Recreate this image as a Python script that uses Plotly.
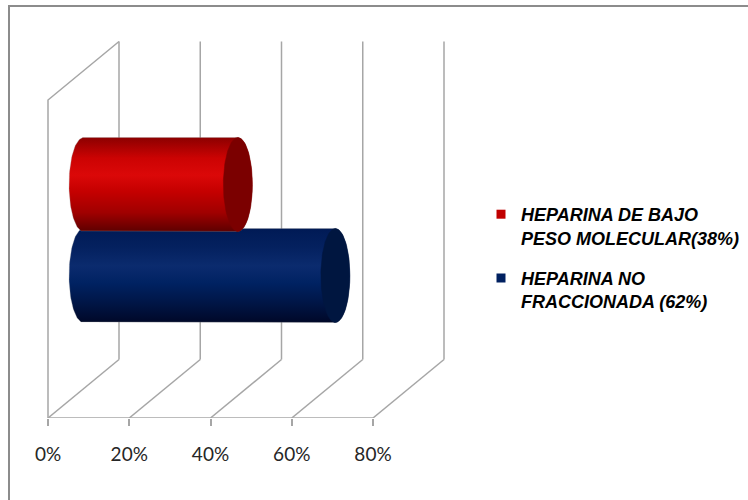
import numpy as np
import plotly.graph_objects as go

# ---------------- data ----------------
series_names = ["HEPARINA DE BAJO<br>PESO MOLECULAR(38%)", "HEPARINA NO<br>FRACCIONADA (62%)"]
series_values = [38, 62]
series_colors = ["#c00000", "#002060"]
tick_values = [0, 20, 40, 60, 80]
tick_labels = ["0%", "20%", "40%", "60%", "80%"]

# ---------------- layout constants ----------------
W, H = 748, 500
PX_PER = 325 / 80.0          # pixels per percent on the front plane
X0PX = 48                     # pixel x of 0 %
FLOOR_PX = 418                # pixel y of front floor edge
DX = 71 / PX_PER              # depth offset (x, data units)
DY = 58.5                     # depth offset (y, data units = px)
WALL_H = 318                  # front wall height
GRID = "#a6a6a6"

xr = [-X0PX / PX_PER, (W - X0PX) / PX_PER]
yr = [0, FLOOR_PX]

fig = go.Figure()

# ---------------- walls / floor / gridlines ----------------
gx, gy = [], []
xmax = max(tick_values)
for t in tick_values:
    gx += [t + DX, t + DX, None]
    gy += [DY, WALL_H + DY, None]
for t in tick_values:
    gx += [t, t + DX, None]
    gy += [0, DY, None]
gx += [0, 0, DX, None]
gy += [0, WALL_H, WALL_H + DY, None]
gx += [0, xmax, None]
gy += [0, 0, None]
fig.add_trace(go.Scatter(x=gx, y=gy, mode="lines", line=dict(color=GRID, width=1.5),
                         hoverinfo="skip", showlegend=False))

# ---------------- cylinders ----------------
RY = 47.0
RX = 14.5 / PX_PER
centers = [233.5, 142.5]      # y centre (data units) of each cylinder
grads = [
    [[0, "#5e0000"], [0.2, "#a00000"], [0.42, "#c40000"], [0.6, "#db0808"],
     [0.78, "#cc0303"], [1, "#8c0000"]],
    [[0, "#000828"], [0.2, "#001545"], [0.42, "#002262"], [0.6, "#0b2b6e"],
     [0.8, "#04215f"], [1, "#001a55"]],
]
caps = ["#7b0000", "#001640"]

xs0 = DX / 2
order = [1, 0]  # draw blue (behind) first, then red
for i in order:
    v = series_values[i]
    yc = centers[i]
    x1 = xs0 + v
    th_r = np.linspace(np.pi / 2, -np.pi / 2, 60)
    th_l = np.linspace(-np.pi / 2, -3 * np.pi / 2, 60)
    bx = list(x1 + RX * np.cos(th_r)) + list(xs0 + RX * np.cos(th_l))
    by = list(yc + RY * np.sin(th_r)) + list(yc + RY * np.sin(th_l))
    bx.append(bx[0]); by.append(by[0])
    fig.add_trace(go.Scatter(
        x=bx, y=by, mode="lines", fill="toself",
        line=dict(color="rgba(160,160,160,0.35)", width=0.8),
        fillgradient=dict(type="vertical", colorscale=grads[i],
                          start=yc - RY, stop=yc + RY),
        hoverinfo="skip", showlegend=False))
    th = np.linspace(0, 2 * np.pi, 120)
    fig.add_trace(go.Scatter(
        x=x1 + RX * np.cos(th), y=yc + RY * np.sin(th), mode="lines", fill="toself",
        fillcolor=caps[i], line=dict(color=caps[i], width=0.5),
        hoverinfo="skip", showlegend=False))

# ---------------- legend entries ----------------
for k, (name, col) in enumerate(zip(series_names, series_colors)):
    fig.add_trace(go.Scatter(x=[None], y=[None], mode="markers", name=name,
                             legendgroup=f"g{k}",
                             marker=dict(symbol="square", size=9, color=col)))

# ---------------- frame ----------------
def py2paper(py):
    return (FLOOR_PX - py) / FLOOR_PX

frame_col = "#8c8c8c"
fig.add_shape(type="line", xref="paper", yref="paper",
              x0=8 / W, x1=1.0, y0=py2paper(6), y1=py2paper(6),
              line=dict(color=frame_col, width=2))
fig.add_shape(type="line", xref="paper", yref="paper",
              x0=9 / W, x1=9 / W, y0=py2paper(6), y1=py2paper(500),
              line=dict(color=frame_col, width=2))

fig.update_layout(
    width=W, height=H,
    margin=dict(l=0, r=0, t=0, b=H - FLOOR_PX),
    paper_bgcolor="white", plot_bgcolor="white",
    xaxis=dict(range=xr, tickvals=tick_values, ticktext=tick_labels,
               ticks="outside", ticklen=7, tickwidth=1.5, tickcolor=GRID,
               showgrid=False, zeroline=False, showline=False,
               tickfont=dict(family="Lato", size=19, color="#262626"),
               ticklabelstandoff=12, fixedrange=True),
    yaxis=dict(range=yr, visible=False, fixedrange=True),
    showlegend=True,
    legend=dict(x=481 / W, xanchor="left", y=py2paper(196), yanchor="top",
                valign="top", traceorder="grouped", tracegroupgap=14,
                bgcolor="rgba(0,0,0,0)",
                font=dict(family="Liberation Sans", size=18, color="#000000",
                          weight="bold", style="italic"),
                itemclick=False, itemdoubleclick=False),
)

fig.write_html("out.html")
